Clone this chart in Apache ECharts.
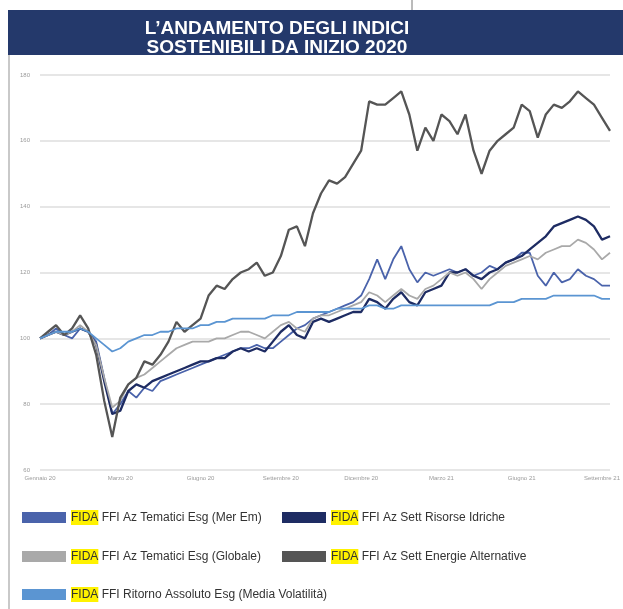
<!DOCTYPE html>
<html>
<head>
<meta charset="utf-8">
<script src="https://cdn.jsdelivr.net/npm/echarts@6/dist/echarts.min.js"></script>
<style>
  html, body { margin: 0; padding: 0; background: #fff; }
  #chart { width: 623px; height: 609px; }
</style>
</head>
<body>
<div id="chart"></div>
<script>
// etichette asse x (una ogni 10 punti)
const tickLabels = ['Gennaio 20', 'Marzo 20', 'Giugno 20', 'Settembre 20', 'Dicembre 20', 'Marzo 21', 'Giugno 21', 'Settembre 21']

const yTicks = { min: 60, max: 180, step: 20 }

// valori (base 100)
const merEm = [100, 101, 103, 101, 100, 103, 102, 99, 88, 77, 80, 84, 82, 85, 84, 87, 88, 89, 90, 91,
  92, 93, 94, 95, 96, 97, 97, 98, 97, 97, 99, 101, 103, 104, 106, 107, 108, 109, 110, 111,
  113, 118, 124, 118, 124, 128, 121, 117, 120, 119, 120, 121, 120, 121, 119, 120, 122, 121, 123, 124,
  126, 126, 119, 116, 120, 117, 118, 121, 119, 118, 116, 116]

const risorseIdriche = [100, 101, 102, 101, 102, 103, 102, 98, 87, 77, 78, 84, 86, 85, 87, 88, 89, 90, 91, 92,
  93, 93, 94, 94, 96, 97, 96, 97, 96, 99, 102, 104, 101, 100, 105, 106, 105, 106, 107, 108,
  108, 112, 111, 109, 112, 114, 111, 110, 114, 115, 116, 120, 120, 121, 119, 118, 120, 121, 123, 124,
  125, 127, 129, 131, 134, 135, 136, 137, 136, 134, 130, 131]

const globale = [100, 101, 102, 101, 102, 104, 102, 98, 88, 79, 81, 86, 88, 89, 91, 93, 95, 97, 98, 99,
  99, 99, 100, 100, 101, 102, 102, 101, 100, 102, 104, 105, 103, 102, 106, 107, 107, 108, 109, 110,
  111, 114, 113, 111, 113, 115, 113, 112, 115, 116, 118, 120, 119, 120, 118, 115, 118, 120, 122, 123,
  124, 125, 124, 126, 127, 128, 128, 130, 129, 127, 124, 126]

const energieAlternative = [100, 102, 104, 101, 103, 107, 103, 95, 81, 70, 82, 86, 88, 93, 92, 95, 99, 105, 102, 104,
  106, 113, 116, 115, 118, 120, 121, 123, 119, 120, 125, 133, 134, 128, 138, 144, 148, 147, 149, 153,
  157, 172, 171, 171, 173, 175, 168, 157, 164, 160, 168, 166, 162, 168, 157, 150, 157, 160, 162, 164,
  171, 169, 161, 168, 171, 170, 172, 175, 173, 171, 167, 163]

const ritornoAssoluto = [100, 101, 102, 102, 102, 103, 102, 100, 98, 96, 97, 99, 100, 101, 101, 102, 102, 103, 103, 103,
  104, 104, 105, 105, 106, 106, 106, 106, 106, 107, 107, 107, 108, 108, 108, 108, 108, 109, 109, 109,
  109, 110, 110, 109, 109, 110, 110, 110, 110, 110, 110, 110, 110, 110, 110, 110, 110, 111, 111, 111,
  112, 112, 112, 112, 113, 113, 113, 113, 113, 113, 112, 112]

const seriesNames = [
  'FIDA FFI Az Tematici Esg (Mer Em)',
  'FIDA FFI Az Sett Risorse Idriche',
  'FIDA FFI Az Tematici Esg (Globale)',
  'FIDA FFI Az Sett Energie Alternative',
  'FIDA FFI Ritorno Assoluto Esg (Media Volatilità)'
]
const seriesColors = ['#4a63ab', '#1e2c63', '#a9a9a9', '#555555', '#5b95d2']
const seriesData = [merEm, risorseIdriche, globale, energieAlternative, ritornoAssoluto]

const points = merEm.map((_, i) => i)

const chart = echarts.init(document.getElementById('chart'), null, { renderer: 'canvas' })

const fontLegend = '"Liberation Sans", Arial, sans-serif'

// posizione delle voci di legenda (due colonne)
const legendPos = [
  { left: 22, top: 510 },
  { left: 282, top: 510 },
  { left: 22, top: 549 },
  { left: 282, top: 549 },
  { left: 22, top: 587 }
]

const legends = seriesNames.map((name, i) => ({
  data: [name],
  left: legendPos[i].left,
  top: legendPos[i].top,
  icon: 'rect',
  itemWidth: 44,
  itemHeight: 11,
  selectedMode: false,
  padding: 0,
  formatter: n => '{h|FIDA}{t|' + n.slice(4) + '}',
  textStyle: {
    rich: {
      h: { backgroundColor: '#fff200', color: '#333', fontSize: 12, fontFamily: fontLegend, padding: [2, 0, 1, 0] },
      t: { color: '#333', fontSize: 12, fontFamily: fontLegend }
    }
  }
}))

chart.setOption({
  animation: false,
  title: {
    text: 'L’ANDAMENTO DEGLI INDICI\nSOSTENIBILI DA INIZIO 2020',
    left: 272,
    top: 14,
    textAlign: 'center',
    textStyle: {
      color: '#fff',
      fontSize: 19,
      fontWeight: 'bold',
      fontFamily: '"Liberation Sans", Arial, sans-serif',
      lineHeight: 19
    }
  },
  graphic: [
    { type: 'rect', shape: { x: 8, y: 10, width: 615, height: 45 }, style: { fill: '#24396b' }, z: -1 },
    { type: 'line', shape: { x1: 9, y1: 55, x2: 9, y2: 609 }, style: { stroke: '#c9c9c9', lineWidth: 2 } },
    { type: 'line', shape: { x1: 412, y1: 0, x2: 412, y2: 10 }, style: { stroke: '#777', lineWidth: 1 } }
  ],
  legend: legends,
  grid: { left: 40, right: 11, top: 75, bottom: 139 },
  xAxis: {
    type: 'category',
    data: points,
    boundaryGap: false,
    axisLine: { show: false },
    axisTick: { show: false },
    axisLabel: {
      interval: 9,
      margin: 5,
      fontSize: 6,
      color: '#9a9a9a',
      formatter: (v, i) => tickLabels[i / 10] || ''
    }
  },
  yAxis: {
    type: 'value',
    min: yTicks.min,
    max: yTicks.max,
    interval: yTicks.step,
    axisLabel: { fontSize: 6, color: '#9a9a9a', margin: 10 },
    splitLine: { lineStyle: { color: '#e6e6e6', width: 2 } }
  },
  series: seriesNames.map((name, i) => ({
    name,
    type: 'line',
    data: seriesData[i],
    symbol: 'none',
    color: seriesColors[i],
    lineStyle: { width: i === 3 || i === 1 ? 2.3 : 1.8, color: seriesColors[i] },
    z: i === 4 ? 3 : 2
  }))
})
</script>
</body>
</html>
